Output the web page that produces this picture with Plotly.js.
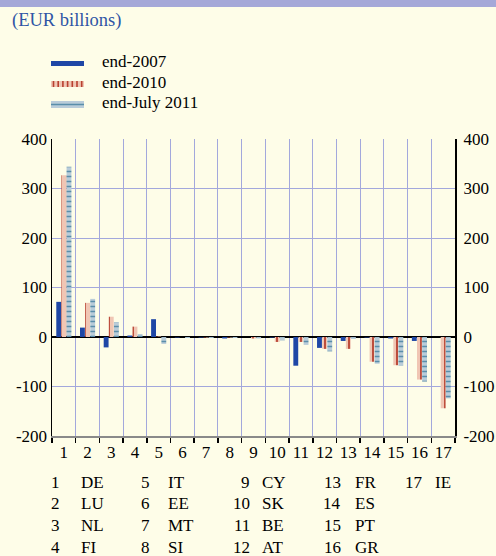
<!DOCTYPE html>
<html>
<head>
<meta charset="utf-8">
<script src="https://cdn.plot.ly/plotly-3.0.1.min.js"></script>
<style>html,body{margin:0;padding:0;background:#fefde8;}#chart{width:496px;height:556px;}</style>
</head>
<body>
<div id="chart"></div>
<script>
// ---- data ----
var categories = ["1","2","3","4","5","6","7","8","9","10","11","12","13","14","15","16","17"];
var countries = ["DE","LU","NL","FI","IT","EE","MT","SI","CY","SK","BE","AT","FR","ES","PT","GR","IE"];
var seriesNames = ["end-2007","end-2010","end-July 2011"];
var end2007 = [71, 19, -21, 3, 36, -1, -1, -3, 0, -1, -58, -22, -8, -1, -3, -8, 0];
var end2010 = [327, 69, 41, 21, 1, 0, -1, -1, -3, -10, -10, -24, -24, -50, -57, -86, -144];
var endJul2011 = [344, 77, 30, 6, -14, -2, -2, -2, -3, -7, -16, -29, -4, -54, -58, -90, -124];
var yTicks = [-200, -100, 0, 100, 200, 300, 400];
var yTickLabels = ["-200", "-100", "0", "100", "200", "300", "400"];

// ---- styling ----
var FONT = "'Liberation Serif', 'Times New Roman', Times, serif";
var BG = "#fefde8";
var GRID = "#a3a8dc";
var BLUE = "#1f47a6";
var SALMON = "#f0c6b4", RED = "#b8402f";
var LIGHT = "#b9ccd9", TEAL = "#5a8eaa";

// pixel -> paper helpers (plot area: x 52..455, y 139..436)
var L = 52, R = 41, T = 139, B = 120, W = 496, H = 556;
var PW = W - L - R, PH = H - T - B;
function px(x){ return (x - L) / PW; }
function py(y){ return (H - B - y) / PH; }

var traces = [
  {type:"bar", name:seriesNames[0], x:categories, y:end2007,
   marker:{color:BLUE, line:{width:0}}},
  {type:"bar", name:seriesNames[1], x:categories, y:end2010,
   marker:{color:SALMON, line:{width:0},
           pattern:{shape:"|", fgcolor:RED, bgcolor:SALMON, size:6, solidity:0.3, fillmode:"replace"}}},
  {type:"bar", name:seriesNames[2], x:categories, y:endJul2011,
   marker:{color:LIGHT, line:{width:0},
           pattern:{shape:"-", fgcolor:TEAL, bgcolor:LIGHT, size:5, solidity:0.3, fillmode:"replace"}}},
  {type:"scatter", x:[categories[0]], y:[null], yaxis:"y2", showlegend:false, hoverinfo:"skip", mode:"lines"}
];

var shapes = [];
var annotations = [];

// top band
shapes.push({type:"rect", xref:"paper", yref:"paper", x0:px(0), x1:px(W), y0:py(0), y1:py(7),
  fillcolor:"#a5a8d8", line:{width:0}, layer:"above"});

// legend swatches
var swX0 = 51, swX1 = 84;
shapes.push({type:"rect", xref:"paper", yref:"paper", x0:px(swX0), x1:px(swX1), y0:py(61), y1:py(66),
  fillcolor:BLUE, line:{width:0}});
shapes.push({type:"rect", xref:"paper", yref:"paper", x0:px(swX0), x1:px(swX1), y0:py(81), y1:py(87),
  fillcolor:SALMON, line:{width:0}});
for (var s = 0; s < 7; s++) {
  var sx = 53.5 + s * 4.7;
  shapes.push({type:"line", xref:"paper", yref:"paper", x0:px(sx), x1:px(sx), y0:py(81), y1:py(87),
    line:{color:RED, width:1.6}});
}
shapes.push({type:"rect", xref:"paper", yref:"paper", x0:px(swX0), x1:px(swX1), y0:py(101), y1:py(108),
  fillcolor:LIGHT, line:{width:0}});
shapes.push({type:"line", xref:"paper", yref:"paper", x0:px(swX0), x1:px(swX1), y0:py(104.5), y1:py(104.5),
  line:{color:TEAL, width:1.5}});

var legY = [62, 82, 102];
for (var i = 0; i < seriesNames.length; i++) {
  annotations.push({xref:"paper", yref:"paper", x:px(100), y:py(legY[i]), xanchor:"left", yanchor:"middle",
    text:seriesNames[i], showarrow:false, font:{family:FONT, size:17, color:"#000"}});
}

// key table
var numRight = [62, 152, 252, 343, 425];
var codeLeft = [79, 166, 260, 353, 433];
var rowY = [482, 503, 525, 547];
for (var k = 0; k < countries.length; k++) {
  var col = Math.floor(k / 4), row = k % 4;
  annotations.push({xref:"paper", yref:"paper", x:px(numRight[col]), y:py(rowY[row]), xanchor:"right", yanchor:"middle",
    text:categories[k], showarrow:false, font:{family:FONT, size:17, color:"#000"}});
  annotations.push({xref:"paper", yref:"paper", x:px(codeLeft[col]), y:py(rowY[row]), xanchor:"left", yanchor:"middle",
    text:countries[k], showarrow:false, font:{family:FONT, size:17, color:"#000"}});
}

var layout = {
  width:W, height:H, autosize:false,
  margin:{l:L, r:R, t:T, b:B, pad:0},
  paper_bgcolor:BG, plot_bgcolor:BG,
  font:{family:FONT, size:17, color:"#000"},
  title:{text:"(EUR billions)", x:12/W, xref:"container", xanchor:"left", y:1-20/H, yanchor:"middle",
         font:{family:FONT, size:18.5, color:"#2f55a5"}},
  showlegend:false,
  barmode:"group", bargap:0.35, bargroupgap:0.05,
  xaxis:{type:"category", categoryorder:"array", categoryarray:categories, range:[-0.5, 16.5],
         tickson:"boundaries", ticks:"outside", ticklen:5, tickwidth:1.5, tickcolor:"#000",
         tickangle:0,
         showgrid:true, gridcolor:GRID, gridwidth:1,
         showline:true, linecolor:"#8a8a8a", linewidth:2,
         tickfont:{family:FONT, size:17, color:"#000"}, fixedrange:true},
  yaxis:{range:[-200,400], tickmode:"array", tickvals:yTicks, ticktext:yTickLabels, ticks:"", ticklen:0,
         showgrid:true, gridcolor:GRID, gridwidth:1,
         showline:true, linecolor:"#000", linewidth:1.5,
         zeroline:true, zerolinecolor:"#000", zerolinewidth:1.5,
         tickfont:{family:FONT, size:17, color:"#000"}, fixedrange:true},
  yaxis2:{range:[-200,400], tickmode:"array", tickvals:yTicks, ticktext:yTickLabels, overlaying:"y", side:"right",
          ticks:"", ticklen:0, ticklabelstandoff:3,
          showgrid:false, zeroline:false, showline:true, linecolor:"#000", linewidth:2,
          tickfont:{family:FONT, size:17, color:"#000"}, fixedrange:true},
  shapes:shapes,
  annotations:annotations
};

Plotly.newPlot("chart", traces, layout, {displayModeBar:false, staticPlot:true});
</script>
</body>
</html>
